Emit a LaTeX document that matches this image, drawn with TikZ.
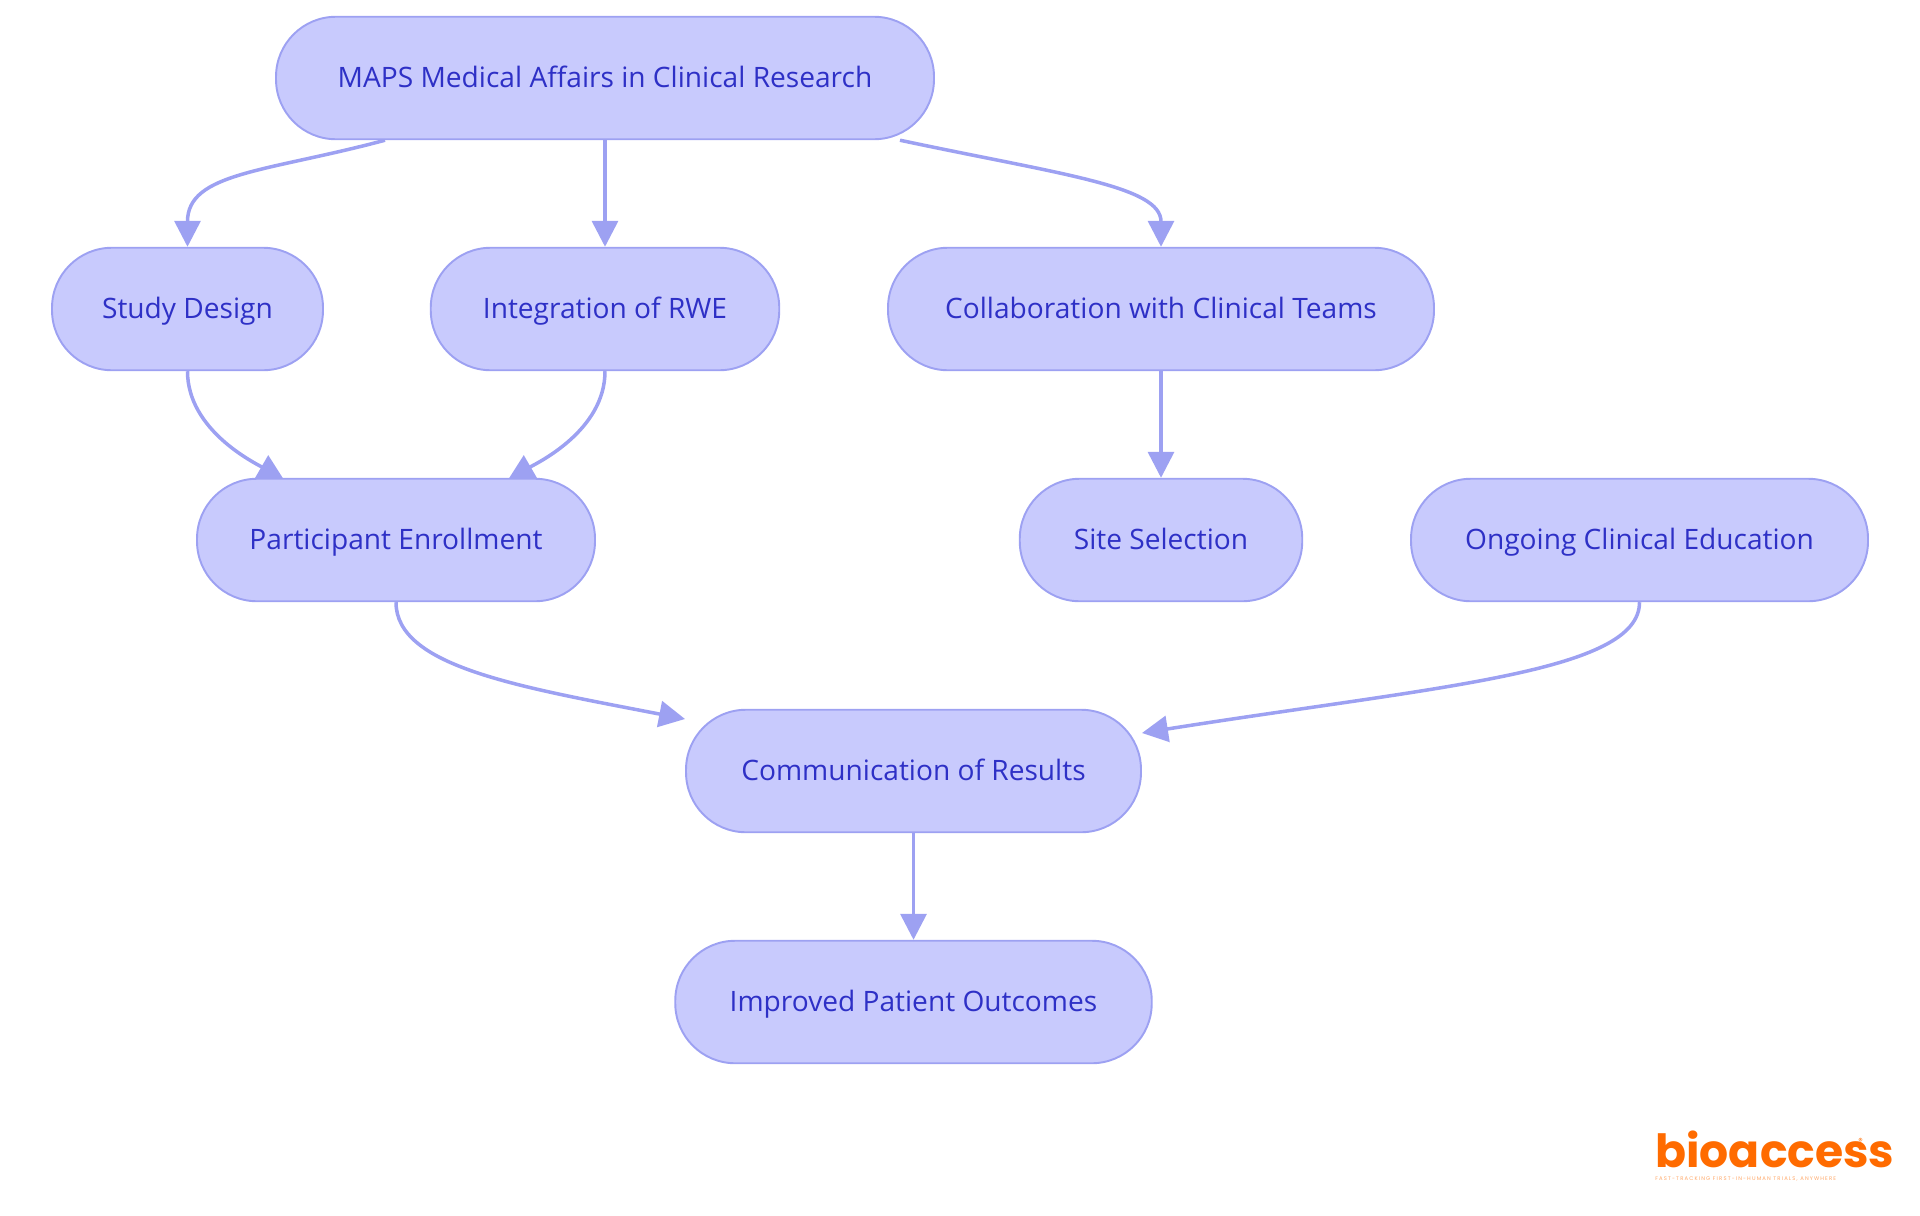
\documentclass[tikz,border=0pt]{standalone}
\usepackage{fontspec}
\setmainfont{Open Sans}
\newfontfamily\logofont{Poppins}
\usepackage{tikz}
\usetikzlibrary{arrows.meta}
\definecolor{pillfill}{HTML}{C8CAFD}
\definecolor{pillline}{HTML}{9DA1F2}
\definecolor{pilltext}{HTML}{2E30C6}
\definecolor{logoorange}{HTML}{FF6B00}
\pgfdeclarelayer{lineas_layer}
\pgfsetlayers{lineas_layer,main}
\tikzstyle{pill}=[draw=pillline,fill=pillfill,text=pilltext,line width=1.1pt,rounded corners=1.2cm,minimum height=2.45cm,inner sep=0pt,text height=0.5cm,text depth=0.14cm,font=\fontsize{16}{16}\selectfont]
\tikzstyle{line}=[draw=pillline,line width=2pt,-{Triangle[length=5.2mm,width=5.2mm]}]
\tikzstyle{logo}=[inner sep=0pt,text=logoorange]

\begin{document}
\begin{tikzpicture}
		\useasboundingbox (0,0) rectangle (38.4,-24.3);
		\node [style=pill,minimum width=13.16cm] (maps) at (12.1,-1.56) {MAPS Medical Affairs in Clinical Research};
		\node [style=pill,minimum width=5.42cm] (study) at (3.75,-6.18) {Study Design};
		\node [style=pill,minimum width=6.97cm] (integration) at (12.1,-6.18) {Integration of RWE};
		\node [style=pill,minimum width=10.92cm] (collab) at (23.22,-6.18) {Collaboration with Clinical Teams};
		\node [style=pill,minimum width=7.96cm] (participant) at (7.92,-10.8) {Participant Enrollment};
		\node [style=pill,minimum width=5.65cm] (site) at (23.22,-10.8) {Site Selection};
		\node [style=pill,minimum width=9.14cm] (ongoing) at (32.79,-10.8) {Ongoing Clinical Education};
		\node [style=pill,minimum width=9.1cm] (comm) at (18.27,-15.42) {Communication of Results};
		\node [style=pill,minimum width=9.53cm] (improved) at (18.27,-20.04) {Improved Patient Outcomes};
		\node [style=logo,font=\logofont\bfseries\fontsize{26}{26}\selectfont,anchor=base west] (logo) at (33.1,-23.34) {bioaccess};
		\node [style=logo,font=\logofont\fontsize{5}{5}\selectfont] (registered) at (37.21,-22.83) {\textregistered};
		\node [style=logo,font=\logofont\fontsize{3}{3}\selectfont,opacity=0.6,anchor=base west] (tagline) at (33.1,-23.6) {\addfontfeature{LetterSpace=22}FAST-TRACKING FIRST-IN-HUMAN TRIALS, ANYWHERE};
		\begin{pgfonlayer}{lineas_layer}
			 \path [style=line] (maps) -- (integration);
			 \path [style=line] (collab) -- (site);
			 \path [style=line] (comm) -- (improved);
			 \path [style=line] ([xshift=-4.4cm]maps.south) to[out=195,in=90,out looseness=1.4,in looseness=0.85] (study.north);
			 \path [style=line] ([xshift=5.9cm]maps.south) to[out=-12,in=90,out looseness=1.5,in looseness=0.55] (collab.north);
			 \path [style=line] (study.south) to[out=270,in=150,out looseness=1.04,in looseness=0.6] ([xshift=-2.24cm,yshift=-0.04cm]participant.north);
			 \path [style=line] (integration.south) to[out=270,in=30,out looseness=1.04,in looseness=0.6] ([xshift=2.24cm,yshift=-0.04cm]participant.north);
			 \path [style=line] (participant.south) to[out=270,in=169,out looseness=0.53,in looseness=1.39] ([yshift=1.04cm]comm.west);
			 \path [style=line] (ongoing.south) to[out=270,in=9,out looseness=0.35,in looseness=1.49] ([yshift=0.76cm]comm.east);
		\end{pgfonlayer}
		\end{tikzpicture}
\end{document}
